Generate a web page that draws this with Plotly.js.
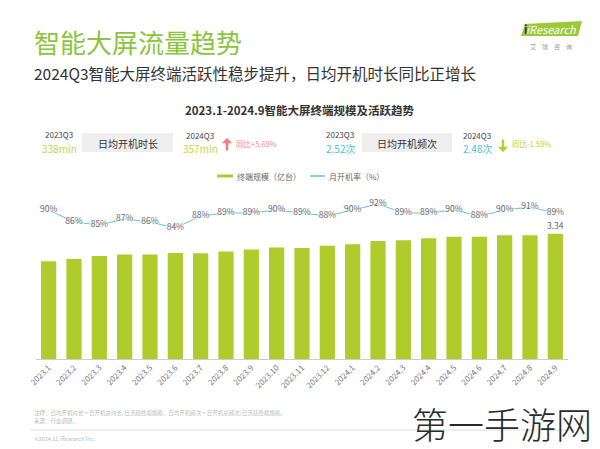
<!DOCTYPE html>
<html>
<head>
<meta charset="utf-8">
<script src="https://cdn.plot.ly/plotly-3.0.1.min.js"></script>
<style>html,body{margin:0;padding:0;background:#fff;}#chart{width:600px;height:449px;}</style>
</head>
<body>
<div id="chart"></div>
<script>
// ---- data ----
const months = ["2023.1","2023.2","2023.3","2023.4","2023.5","2023.6","2023.7","2023.8","2023.9","2023.10","2023.11","2023.12",
                "2024.1","2024.2","2024.3","2024.4","2024.5","2024.6","2024.7","2024.8","2024.9"];
const terminalScale = [2.61,2.67,2.75,2.79,2.79,2.83,2.82,2.87,2.92,2.97,2.96,3.02,3.06,3.15,3.17,3.22,3.26,3.26,3.30,3.30,3.34];
const monthlyOnRate = [90,86,85,87,86,84,88,89,89,90,89,88,90,92,89,89,90,88,90,91,89];
const seriesNames = ["终端规模（亿台）","月开机率（%）"];
const kpiLeft = {label:"日均开机时长", prevQ:"2023Q3", prevVal:"338min", curQ:"2024Q3", curVal:"357min", change:"同比+5.69%"};
const kpiRight = {label:"日均开机频次", prevQ:"2023Q3", prevVal:"2.52次", curQ:"2024Q3", curVal:"2.48次", change:"同比-1.59%"};

// ---- layout helpers ----
const W=600,H=449,L=36,R=32,T=200,B=90;
const PW=W-L-R, PH=H-T-B;
const px = x => (x-L)/PW;
const py = y => (H-B-y)/PH;
const FONT = "Noto Sans CJK SC, Noto Sans, sans-serif";

const barColor = "#AFCB2C";
const lineColor = "#5CC6D6";
const idx = months.map((_,i)=>i);

const traces = [
  {type:"bar", x:idx, y:terminalScale, name:seriesNames[0], marker:{color:barColor}, hoverinfo:"skip", showlegend:false},
  {type:"scatter", mode:"lines", x:idx, y:monthlyOnRate, yaxis:"y2", name:seriesNames[1], cliponaxis:false,
   line:{color:lineColor, width:1}, hoverinfo:"skip", showlegend:false},
  {type:"scatter", mode:"text", x:idx, y:monthlyOnRate, yaxis:"y2", cliponaxis:false,
   text:monthlyOnRate.map(v=>v+"%"), textposition:"middle center",
   textfont:{family:FONT, size:8.5, color:"#666", shadow:"0 0 2px #fff, 0 0 2px #fff, 0 0 3px #fff, 0 0 3px #fff"},
   hoverinfo:"skip", showlegend:false}
];

const ann = [];
const shapes = [];
function t(x,y,text,size,color,opts){ ann.push(Object.assign({xref:"paper",yref:"paper",x:px(x),y:py(y),text:text,showarrow:false,
  font:{family:FONT,size:size,color:color},xanchor:"left",yanchor:"middle"},opts||{})); }

// titles
t(32,41,"智能大屏流量趋势",26,"#8CC43F");
t(32,73,"2024Q3智能大屏终端活跃性稳步提升，日均开机时长同比正增长",15.5,"#333");
t(300,110,"<b>2023.1-2024.9智能大屏终端规模及活跃趋势</b>",11.5,"#333",{xanchor:"center"});

// logo
shapes.push({type:"path",xref:"paper",yref:"paper",
  path:`M ${px(521)} ${py(36)} L ${px(578)} ${py(36)} L ${px(582)} ${py(21)} L ${px(525)} ${py(24)} Z`,
  fillcolor:"#9CC93B",line:{width:0}});
t(551,29,"<i>iResearch</i>",11,"#fff",{xanchor:"center"});
t(522,29,"<b>i</b>",11,"#333",{xanchor:"left"});
t(551,46,"艾　瑞　咨　询",6,"#999",{xanchor:"center"});

// KPI rows
function kpi(k, x0, boxX0, boxX1, curX, arrowX, chgX, valColor, up, arrowColor, chgColor){
  t(x0,134,k.prevQ,8,"#444",{xanchor:"center"});
  t(x0,148,k.prevVal,10,valColor,{xanchor:"center"});
  shapes.push({type:"rect",xref:"paper",yref:"paper",x0:px(boxX0),x1:px(boxX1),y0:py(152),y1:py(133),fillcolor:"#EEEEEE",line:{width:0}});
  t((boxX0+boxX1)/2,143,k.label,10,"#333",{xanchor:"center"});
  t(curX,135,k.curQ,8,"#444",{xanchor:"center"});
  t(curX,148,k.curVal,10,valColor,{xanchor:"center"});
  ann.push({xref:"paper",yref:"paper",axref:"pixel",ayref:"pixel",x:px(arrowX),y:py(up?138:152),ax:0,ay:up?14:-14,
    text:"",showarrow:true,arrowhead:1,arrowsize:0.7,arrowwidth:2.5,arrowcolor:arrowColor});
  t(chgX,143,k.change,7.5,chgColor);
}
kpi(kpiLeft, 59, 82, 173, 200, 227, 234, "#C4D63E", true, "#F07E7E", "#F08C8C");
kpi(kpiRight, 340, 362, 452, 477, 503, 510, "#4DBFD2", false, "#B5CC3A", "#B8CF40");

// legend
shapes.push({type:"line",xref:"paper",yref:"paper",x0:px(217),x1:px(233),y0:py(176),y1:py(176),line:{color:barColor,width:3}});
t(235,176,seriesNames[0],8,"#666");
shapes.push({type:"line",xref:"paper",yref:"paper",x0:px(310),x1:px(325),y0:py(176),y1:py(176),line:{color:lineColor,width:1.5}});
t(327,176,seriesNames[1],8,"#666");

// value label on last bar
const li = months.length-1;
ann.push({x:idx[li],y:terminalScale[li],xref:"x",yref:"y",text:terminalScale[li].toFixed(2),showarrow:false,
  yanchor:"bottom",yshift:1,font:{family:FONT,size:8.5,color:"#666"}});

// footer
t(32,413,"注释：日均开机时长 = 日开机总时长/日活跃终端规模，日均开机频次 = 日开机总频次/日活跃终端规模。",5.5,"#bbb");
t(32,421,"来源：行业调研。",5.5,"#bbb");
shapes.push({type:"line",xref:"paper",yref:"paper",x0:px(30),x1:px(575),y0:py(430),y1:py(430),line:{color:"#ddd",width:1}});
t(32,439,"©2024.11 iResearch Inc.",5.5,"#bbb");
// watermark
t(410,423,"第一手游网",36,"#2a2a2a",{font:{family:FONT,size:36,color:"#2a2a2a",weight:300}});

const layout = {
  width:W,height:H,margin:{l:L,r:R,t:T,b:B,pad:0},
  paper_bgcolor:"#fff",plot_bgcolor:"#fff",
  font:{family:FONT},
  bargap:0.4,
  xaxis:{range:[-0.5,months.length-0.5],tickmode:"array",tickvals:idx,ticktext:months,
         showline:true,linecolor:"#CCCCCC",linewidth:1,ticks:"",showgrid:false,zeroline:false,
         tickangle:-45,tickfont:{family:FONT,size:8,color:"#777"},fixedrange:true},
  yaxis:{range:[0,4.24],visible:false,showgrid:false,zeroline:false,fixedrange:true},
  yaxis2:{range:[40.33,93.33],overlaying:"y",visible:false,showgrid:false,zeroline:false,fixedrange:true},
  showlegend:false,
  annotations:ann,
  shapes:shapes
};
Plotly.newPlot("chart",traces,layout,{staticPlot:true,displayModeBar:false});
</script>
</body>
</html>
